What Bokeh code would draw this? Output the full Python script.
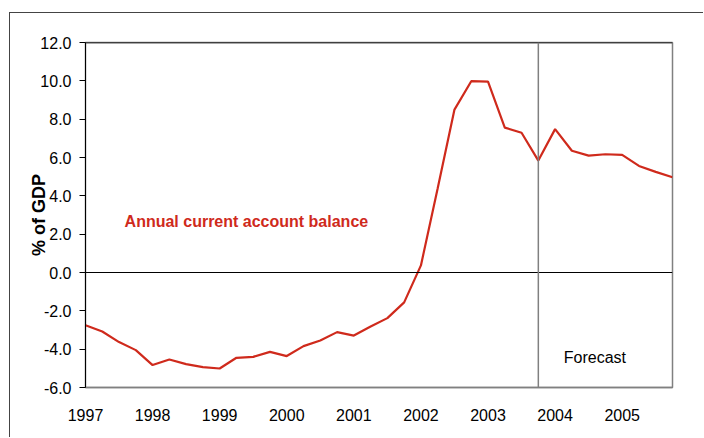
from bokeh.plotting import figure
from bokeh.models import Range1d, FixedTicker, PrintfTickFormatter, Span, Label
from bokeh.embed import file_html
from bokeh.resources import INLINE

# Quarterly data, 1997Q1 .. 2005Q4
quarters = [f"{y}Q{q}" for y in range(1997, 2006) for q in range(1, 5)]
balance = [-2.75, -3.08, -3.63, -4.05, -4.83, -4.54, -4.78, -4.94, -5.01, -4.45,
           -4.40, -4.14, -4.36, -3.84, -3.55, -3.11, -3.29, -2.82, -2.38, -1.56,
           0.37, 4.40, 8.50, 9.98, 9.96, 7.56, 7.29, 5.84, 7.48, 6.35,
           6.10, 6.17, 6.14, 5.56, 5.25, 4.97]
year_labels = ["1997", "1998", "1999", "2000", "2001", "2002", "2003", "2004", "2005"]
y_ticks = [-6, -4, -2, 0, 2, 4, 6, 8, 10, 12]
forecast_start = "2003Q4"

x = list(range(len(quarters)))
year_ticks = [quarters.index(f"{yl}Q1") for yl in year_labels]

RED = "#CF2A1C"
FONT = "Liberation Sans"

p = figure(width=694, height=425, output_backend="svg", toolbar_location=None,
           x_range=Range1d(0, len(quarters) - 1), y_range=Range1d(-6, 12),
           min_border_left=75, min_border_right=32, min_border_top=29, min_border_bottom=51,
           background_fill_color="white", border_fill_color="white")
p.margin = (12, 0, 0, 9)
p.styles = {"border-left": "1px solid #444444", "border-top": "1px solid #444444"}
p.grid.visible = False
p.outline_line_color = "#808080"
p.outline_line_width = 1.5

# y axis
p.yaxis.ticker = FixedTicker(ticks=y_ticks)
p.yaxis.formatter = PrintfTickFormatter(format="%.1f")
p.yaxis.major_tick_out = 6
p.yaxis.major_tick_in = 0
p.yaxis.minor_tick_line_color = None
p.yaxis.axis_line_color = "black"
p.yaxis.major_tick_line_color = "black"
p.yaxis.major_label_standoff = 8
p.yaxis.major_label_text_font = FONT
p.yaxis.major_label_text_font_size = "16px"
p.yaxis.major_label_text_color = "black"
p.yaxis.axis_label = "% of GDP"
p.yaxis.axis_label_text_font = FONT
p.yaxis.axis_label_text_font_size = "18px"
p.yaxis.axis_label_text_font_style = "bold"
p.yaxis.axis_label_text_color = "black"
p.yaxis.axis_label_standoff = -12

# x axis
p.xaxis.ticker = FixedTicker(ticks=year_ticks)
p.xaxis.major_label_overrides = {t: l for t, l in zip(year_ticks, year_labels)}
p.xaxis.major_tick_out = 0
p.xaxis.major_tick_in = 0
p.xaxis.minor_tick_line_color = None
p.xaxis.axis_line_color = "#808080"
p.xaxis.axis_line_width = 1.5
p.xaxis.major_label_standoff = 21
p.xaxis.major_label_text_font = FONT
p.xaxis.major_label_text_font_size = "16px"
p.xaxis.major_label_text_color = "black"

# reference lines
p.add_layout(Span(location=12, dimension="width", line_color="black", line_width=1.5))
p.add_layout(Span(location=0, dimension="width", line_color="black", line_width=1))
p.add_layout(Span(location=quarters.index(forecast_start), dimension="height",
                  line_color="#808080", line_width=1.5))

p.line(x, balance, line_color=RED, line_width=2.2)

p.add_layout(Label(x=2.33, y=2.68, text="Annual current account balance",
                   text_font=FONT, text_font_size="16px", text_font_style="bold",
                   text_color=RED, text_baseline="middle", text_align="left"))
p.add_layout(Label(x=28.52, y=-4.43, text="Forecast",
                   text_font=FONT, text_font_size="16px",
                   text_color="black", text_baseline="middle", text_align="left"))

open("out.html", "w").write(file_html(p, INLINE))
